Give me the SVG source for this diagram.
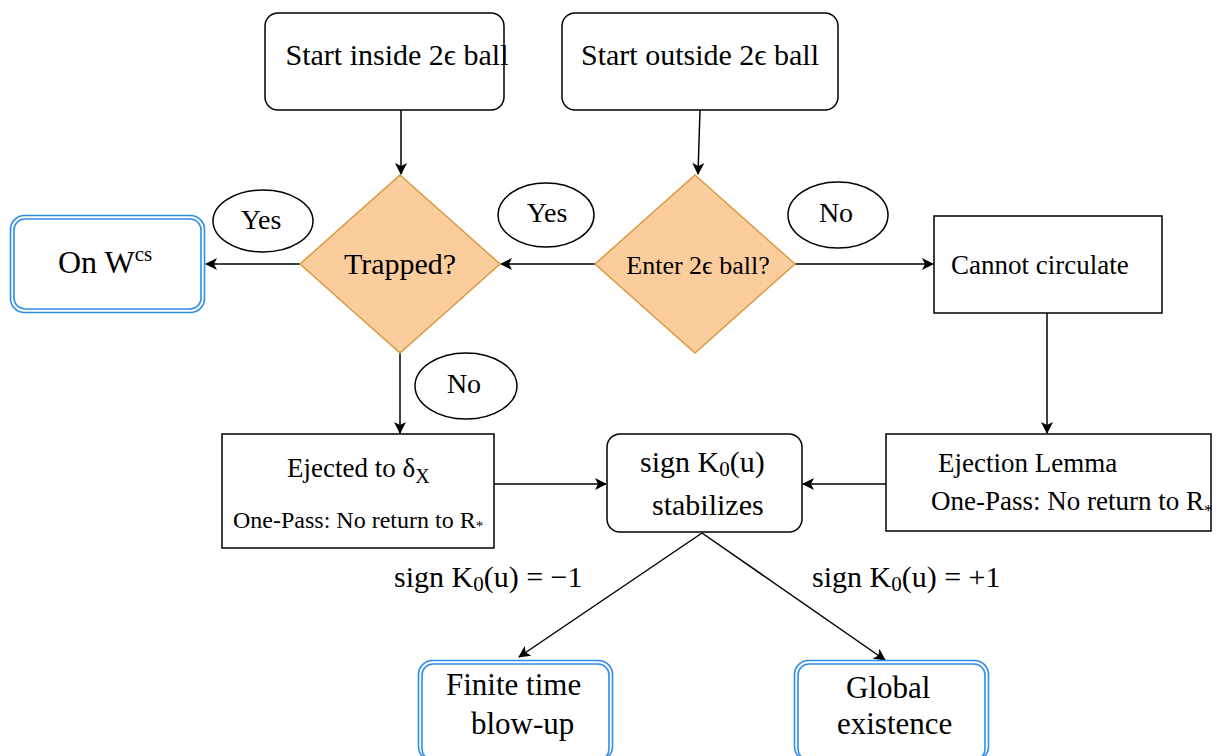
<svg xmlns="http://www.w3.org/2000/svg" width="1225" height="756" viewBox="0 0 1225 756">
  <style>
    text { font-family: "Liberation Serif", "DejaVu Serif", serif; fill: #000; }
    .box { fill: #fff; stroke: #000; stroke-width: 1.5; }
    .dia { fill: #FBCD9C; stroke: #D89A40; stroke-width: 1.5; }
    .ell { fill: #fff; stroke: #000; stroke-width: 1.5; }
    .term { fill: none; stroke: #2F8CEB; stroke-width: 1.6; }
    .edge { fill: none; stroke: #000; stroke-width: 1.5; }
    .c { text-anchor: middle; }
  </style>
  <defs>
    <marker id="arrow" viewBox="0 0 12 12" refX="11" refY="6" markerWidth="12" markerHeight="12" markerUnits="userSpaceOnUse" orient="auto">
      <path d="M0,0 L12,6 L0,12 L3,6 Z" fill="#000"/>
    </marker>
  </defs>

  <rect width="1225" height="756" fill="#fff"/>

  <!-- connectors -->
  <g id="connectors">
    <path class="edge" d="M401,110 L401,174" marker-end="url(#arrow)"/>
    <path class="edge" d="M700,110 L698,174" marker-end="url(#arrow)"/>
    <path class="edge" d="M300,264 L206,264" marker-end="url(#arrow)"/>
    <path class="edge" d="M595,264 L501,264" marker-end="url(#arrow)"/>
    <path class="edge" d="M795,264 L933,264" marker-end="url(#arrow)"/>
    <path class="edge" d="M400,353 L400,433" marker-end="url(#arrow)"/>
    <path class="edge" d="M1047,313 L1047,433" marker-end="url(#arrow)"/>
    <path class="edge" d="M494,484 L606,484" marker-end="url(#arrow)"/>
    <path class="edge" d="M886,484 L803,484" marker-end="url(#arrow)"/>
    <path class="edge" d="M702,533 L519,657" marker-end="url(#arrow)"/>
    <path class="edge" d="M702,533 L885,660" marker-end="url(#arrow)"/>
  </g>

  <!-- edge labels -->
  <g id="label-yes-left">
    <ellipse class="ell" cx="263" cy="221" rx="50" ry="31"/>
    <text class="c" x="261" y="229" font-size="28">Yes</text>
  </g>
  <g id="label-yes-mid">
    <ellipse class="ell" cx="546" cy="215" rx="48" ry="32"/>
    <text class="c" x="547" y="222" font-size="28">Yes</text>
  </g>
  <g id="label-no-right">
    <ellipse class="ell" cx="838" cy="215" rx="50" ry="33"/>
    <text class="c" x="836" y="222" font-size="28">No</text>
  </g>
  <g id="label-no-low">
    <ellipse class="ell" cx="466" cy="386" rx="51" ry="33"/>
    <text class="c" x="464" y="393" font-size="28">No</text>
  </g>
  <g id="label-minus">
    <text x="394" y="587" font-size="30">sign K<tspan font-size="21" dy="4">0</tspan><tspan dy="-4">(u) = −1</tspan></text>
  </g>
  <g id="label-plus">
    <text x="812" y="587" font-size="30">sign K<tspan font-size="21" dy="4">0</tspan><tspan dy="-4">(u) = +1</tspan></text>
  </g>

  <!-- nodes -->
  <g id="start-inside">
    <rect class="box" x="265" y="13" width="239" height="97" rx="13"/>
    <text class="c" x="397" y="65" font-size="30">Start inside 2ϵ ball</text>
  </g>
  <g id="start-outside">
    <rect class="box" x="562" y="13" width="276" height="97" rx="13"/>
    <text class="c" x="700" y="65" font-size="30">Start outside 2ϵ ball</text>
  </g>
  <g id="trapped">
    <polygon class="dia" points="400,175 500,264 400,353 300,264"/>
    <text class="c" x="400" y="274" font-size="30">Trapped?</text>
  </g>
  <g id="enter-ball">
    <polygon class="dia" points="695,175 795,264 695,353 595,264"/>
    <text class="c" x="698" y="274" font-size="26">Enter 2ϵ ball?</text>
  </g>
  <g id="on-wcs">
    <rect class="term" x="10.5" y="215.5" width="194" height="97" rx="14"/>
    <rect class="term" x="14" y="219" width="187" height="90" rx="11"/>
    <text x="58" y="273" font-size="32">On W<tspan font-size="21" dy="-12">cs</tspan></text>
  </g>
  <g id="cannot-circulate">
    <rect class="box" x="934" y="216" width="228" height="97"/>
    <text x="951" y="274" font-size="27">Cannot circulate</text>
  </g>
  <g id="ejected">
    <rect class="box" x="222" y="434" width="272" height="114"/>
    <text x="287" y="477" font-size="27">Ejected to δ<tspan font-size="20" dy="6">X</tspan></text>
    <text x="233" y="528" font-size="24">One-Pass: No return to R<tspan font-size="15" dy="3">*</tspan></text>
  </g>
  <g id="sign-stabilizes">
    <rect class="box" x="607" y="434" width="195" height="98" rx="13"/>
    <text x="640" y="472" font-size="30">sign K<tspan font-size="21" dy="4">0</tspan><tspan dy="-4">(u)</tspan></text>
    <text x="652" y="515" font-size="30">stabilizes</text>
  </g>
  <g id="ejection-lemma">
    <rect class="box" x="886" y="434" width="325" height="97"/>
    <text x="938" y="472" font-size="27">Ejection Lemma</text>
    <text x="931" y="510" font-size="27">One-Pass: No return to R<tspan font-size="17" dy="6">*</tspan></text>
  </g>
  <g id="finite-time">
    <rect class="term" x="418.5" y="660.5" width="194" height="100" rx="14"/>
    <rect class="term" x="422" y="664" width="187" height="96" rx="11"/>
    <text x="446" y="695" font-size="31">Finite time</text>
    <text x="471" y="734" font-size="31">blow-up</text>
  </g>
  <g id="global-existence">
    <rect class="term" x="794.5" y="660.5" width="194" height="100" rx="14"/>
    <rect class="term" x="798" y="664" width="187" height="96" rx="11"/>
    <text x="846" y="698" font-size="31">Global</text>
    <text x="837" y="734" font-size="31">existence</text>
  </g>
</svg>
